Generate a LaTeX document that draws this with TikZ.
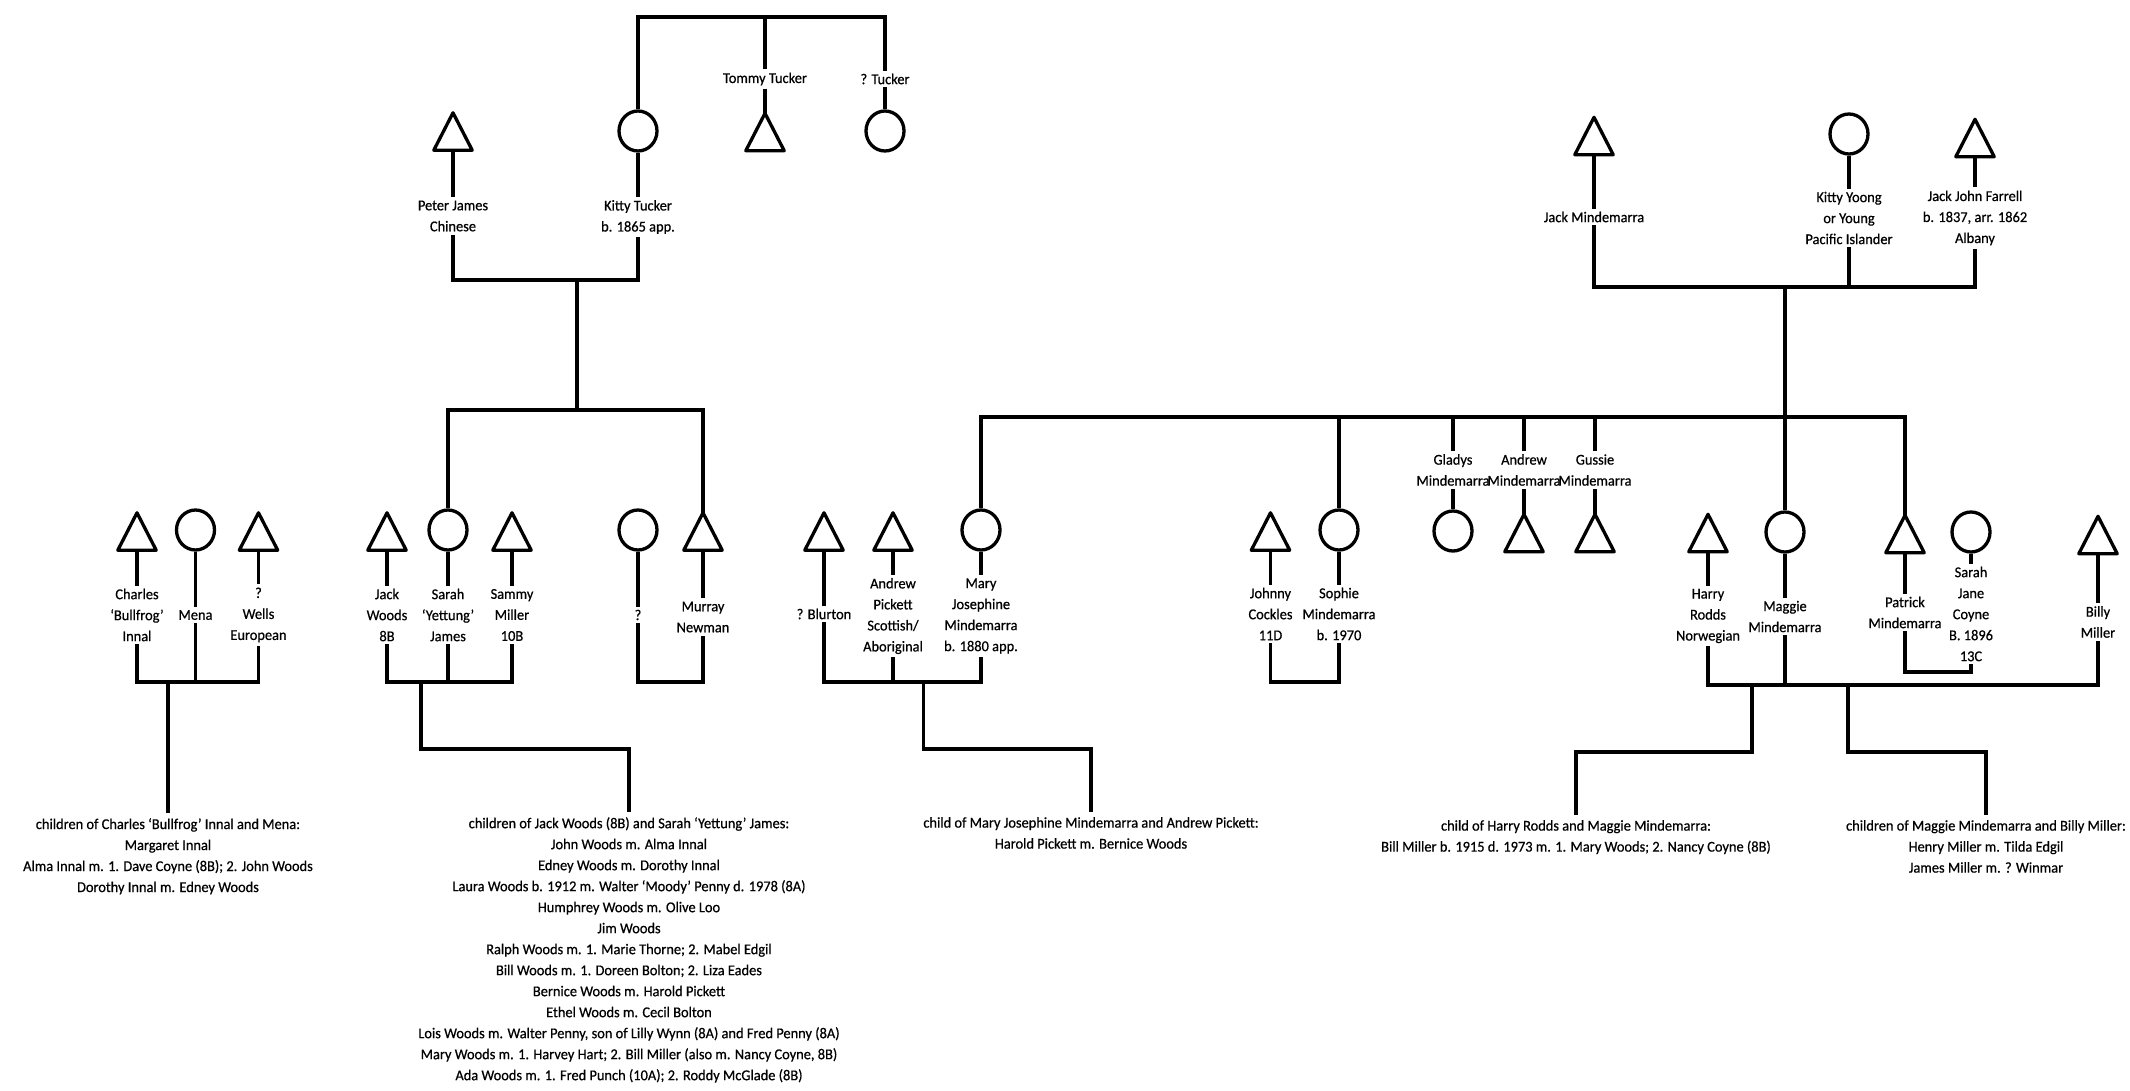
\documentclass[tikz,border=0pt]{standalone}
\usepackage{fontspec}
\setmainfont[FakeStretch=0.96,FakeBold=0.6]{Carlito}
\usetikzlibrary{shapes.geometric}
\begin{document}
\begin{tikzpicture}[x=1pt,y=-1pt,
  every node/.style={font=\fontsize{15}{21}\selectfont},
  lbl/.style={align=center, inner sep=3pt},
  tri/.style={minimum width=38pt, minimum height=37pt, inner sep=0pt},
  fem/.style={ellipse, draw, line width=3.3pt, minimum width=38pt, minimum height=40pt, inner sep=0pt},
  symline/.style={line width=3.3pt, line join=round},
  ln/.style={line width=3.8pt},
  txt/.style={align=center, inner sep=5pt, anchor=north}]
\path[use as bounding box] (0,0) rectangle (2130,1091);

% ---------- bar levels ----------
\coordinate (tb) at (0,17);
\coordinate (b1) at (0,280);
\coordinate (b2) at (0,410);
\coordinate (b3) at (0,682);
\coordinate (b4) at (0,287);
\coordinate (b5) at (0,417);
\coordinate (b6) at (0,685);
\coordinate (b7) at (0,672);
\coordinate (e1) at (0,749);
\coordinate (e2) at (0,752);

% ---------- row 1 left ----------
\node[tri] (peter) at (453,131.5) {};
\node[fem] (kittyT) at (638,131) {};
\node[tri] (tommy) at (765,132) {};
\node[fem] (qtucker) at (885,131) {};
\node[lbl] (peterL) at (453,216) {Peter James\\Chinese};
\node[lbl] (kittyTL) at (638,217) {Kitty Tucker\\b. 1865 app.};
\node[lbl] (tommyL) at (765,79) {Tommy Tucker};
\node[lbl] (qtuckerL) at (885,79) {? Tucker};

% ---------- row 1 right ----------
\node[tri] (jackM) at (1594,136) {};
\node[fem] (kittyY) at (1849,134) {};
\node[tri] (farrell) at (1975,138) {};
\node[lbl] (jackML) at (1594,217) {Jack Mindemarra};
\node[lbl] (kittyYL) at (1849,218) {Kitty Yoong\\or Young\\Pacific Islander};
\node[lbl] (farrellL) at (1975,218) {Jack John Farrell\\b. 1837, arr. 1862\\Albany};

% ---------- row 2 ----------
\node[tri] (charles) at (137,531.5) {};
\node[fem] (mena) at (195.5,530) {};
\node[tri] (wells) at (258.5,531.5) {};
\node[tri] (jackW) at (387,531.5) {};
\node[fem] (sarahW) at (448,530) {};
\node[tri] (sammy) at (512,531.5) {};
\node[fem] (qmur) at (638,530) {};
\node[tri] (murray) at (703,531.5) {};
\node[tri] (blurton) at (824,531.5) {};
\node[tri] (andrewP) at (893,531.5) {};
\node[fem] (mary) at (981,530) {};
\node[tri] (johnny) at (1270.5,531.5) {};
\node[fem] (sophie) at (1339,530) {};
\node[fem] (gladys) at (1453,531) {};
\node[tri] (andrewM) at (1524,533) {};
\node[tri] (gussie) at (1595,533) {};
\node[tri] (harry) at (1708,533) {};
\node[fem] (maggie) at (1785,532) {};
\node[tri] (patrick) at (1905,534) {};
\node[fem] (sarahJ) at (1971,532) {};
\node[tri] (billy) at (2098,535) {};

\foreach \n in {peter,tommy,jackM,farrell,charles,wells,jackW,sammy,murray,blurton,andrewP,johnny,andrewM,gussie,harry,patrick,billy}
  \draw[symline] (\n.south west) -- (\n.north) -- (\n.south east) -- cycle;

\node[lbl] (charlesL) at (137,615) {Charles\\`Bullfrog'\\Innal};
\node[lbl] (menaL) at (195.5,615) {Mena};
\node[lbl] (wellsL) at (258.5,615) {?\\Wells\\European};
\node[lbl] (jackWL) at (387,615) {Jack\\Woods\\8B};
\node[lbl] (sarahWL) at (448,615) {Sarah\\`Yettung'\\James};
\node[lbl] (sammyL) at (512,615) {Sammy\\Miller\\10B};
\node[lbl] (qmurL) at (638,615) {?};
\node[lbl] (murrayL) at (703,617) {Murray\\Newman};
\node[lbl] (blurtonL) at (824,614) {? Blurton};
\node[lbl] (andrewPL) at (893,616) {Andrew\\Pickett\\Scottish/\\Aboriginal};
\node[lbl] (maryL) at (981,616) {Mary\\Josephine\\Mindemarra\\b. 1880 app.};
\node[lbl] (johnnyL) at (1270.5,614) {Johnny\\Cockles\\11D};
\node[lbl] (sophieL) at (1339,614) {Sophie\\Mindemarra\\b. 1970};
\node[lbl] (gladysL) at (1453,470) {Gladys\\Mindemarra};
\node[lbl] (andrewML) at (1524,470) {Andrew\\Mindemarra};
\node[lbl] (gussieL) at (1595,470) {Gussie\\Mindemarra};
\node[lbl] (harryL) at (1708,616) {Harry\\Rodds\\Norwegian};
\node[lbl] (maggieL) at (1785,616.5) {Maggie\\Mindemarra};
\node[lbl] (patrickL) at (1905,612.5) {Patrick\\Mindemarra};
\node[lbl] (sarahJL) at (1971,614) {Sarah\\Jane\\Coyne\\B. 1896\\13C};
\node[lbl] (billyL) at (2098,622) {Billy\\Miller};

% ---------- children texts ----------
\node[txt] (innalKids) at (168,813) {children of Charles `Bullfrog' Innal and Mena:\\Margaret Innal\\Alma Innal m. 1. Dave Coyne (8B); 2. John Woods\\Dorothy Innal m. Edney Woods};
\node[txt] (woodsKids) at (629,812) {children of Jack Woods (8B) and Sarah `Yettung' James:\\John Woods m. Alma Innal\\Edney Woods m. Dorothy Innal\\Laura Woods b. 1912 m. Walter `Moody' Penny d. 1978 (8A)\\Humphrey Woods m. Olive Loo\\Jim Woods\\Ralph Woods m. 1. Marie Thorne; 2. Mabel Edgil\\Bill Woods m. 1. Doreen Bolton; 2. Liza Eades\\Bernice Woods m. Harold Pickett\\Ethel Woods m. Cecil Bolton\\Lois Woods m. Walter Penny, son of Lilly Wynn (8A) and Fred Penny (8A)\\Mary Woods m. 1. Harvey Hart; 2. Bill Miller (also m. Nancy Coyne, 8B)\\Ada Woods m. 1. Fred Punch (10A); 2. Roddy McGlade (8B)};
\node[txt] (pickettKid) at (1091,812) {child of Mary Josephine Mindemarra and Andrew Pickett:\\Harold Pickett m. Bernice Woods};
\node[txt] (roddsKid) at (1576,815) {child of Harry Rodds and Maggie Mindemarra:\\Bill Miller b. 1915 d. 1973 m. 1. Mary Woods; 2. Nancy Coyne (8B)};
\node[txt] (millerKids) at (1986,815) {children of Maggie Mindemarra and Billy Miller:\\Henry Miller m. Tilda Edgil\\James Miller m. ? Winmar};

% ---------- connectors: top left ----------
\draw[ln] (kittyT) -- (kittyT |- tb) -- (qtuckerL |- tb) -- (qtuckerL);
\draw[ln] (tommyL) -- (tommyL |- tb);
\draw[ln] (tommyL) -- (tommy.north);
\draw[ln] (qtuckerL) -- (qtucker);
\draw[ln] (peter.south) -- (peterL);
\draw[ln] (kittyT) -- (kittyTL);
\draw[ln] (peterL) -- (peterL |- b1) -- (kittyTL |- b1) -- (kittyTL);
\coordinate (d1) at (577,280);
\draw[ln] (d1) -- (d1 |- b2);
\draw[ln] (sarahW) -- (sarahW |- b2) -- (murray.north |- b2) -- (murray.north);

% ---------- connectors: top right ----------
\draw[ln] (jackM.south) -- (jackML);
\draw[ln] (kittyY) -- (kittyYL);
\draw[ln] (farrell.south) -- (farrellL);
\draw[ln] (jackML) -- (jackML |- b4) -- (farrellL |- b4) -- (farrellL);
\draw[ln] (kittyYL) -- (kittyYL |- b4);
\coordinate (d2) at (1785,287);
\draw[ln] (d2) -- (maggie);
\draw[ln] (mary) -- (mary |- b5) -- (patrick.north |- b5) -- (patrick.north);
\draw[ln] (sophie) -- (sophie |- b5);
\draw[ln] (gladysL) -- (gladysL |- b5);
\draw[ln] (gladysL) -- (gladys);
\draw[ln] (andrewML) -- (andrewML |- b5);
\draw[ln] (andrewML) -- (andrewM.north);
\draw[ln] (gussieL) -- (gussieL |- b5);
\draw[ln] (gussieL) -- (gussie.north);

% ---------- connectors: row 2 symbols to labels ----------
\foreach \n in {charles,wells,jackW,sammy,murray,blurton,andrewP,johnny,harry,patrick,billy}
  \draw[ln] (\n.south) -- (\n L);
\foreach \n in {mena,sarahW,qmur,mary,sophie,maggie,sarahJ}
  \draw[ln] (\n) -- (\n L);

% ---------- couple bars ----------
\draw[ln] (charlesL) -- (charlesL |- b3) -- (wellsL |- b3) -- (wellsL);
\draw[ln] (menaL) -- (menaL |- b3);
\draw[ln] (jackWL) -- (jackWL |- b3) -- (sammyL |- b3) -- (sammyL);
\draw[ln] (sarahWL) -- (sarahWL |- b3);
\draw[ln] (qmurL) -- (qmurL |- b3) -- (murrayL |- b3) -- (murrayL);
\draw[ln] (blurtonL) -- (blurtonL |- b3) -- (maryL |- b3) -- (maryL);
\draw[ln] (andrewPL) -- (andrewPL |- b3);
\draw[ln] (johnnyL) -- (johnnyL |- b3) -- (sophieL |- b3) -- (sophieL);
\draw[ln] (harryL) -- (harryL |- b6) -- (billyL |- b6) -- (billyL);
\draw[ln] (maggieL) -- (maggieL |- b6);
\draw[ln] (patrickL) -- (patrickL |- b7) -- (sarahJL |- b7) -- (sarahJL);

% ---------- descents to children ----------
\draw[ln] (innalKids.north |- b3) -- (innalKids.north);
\coordinate (d3) at (421,682);
\draw[ln] (d3) -- (d3 |- e1) -- (woodsKids.north |- e1) -- (woodsKids.north);
\coordinate (d4) at (923.5,682);
\draw[ln] (d4) -- (d4 |- e1) -- (pickettKid.north |- e1) -- (pickettKid.north);
\coordinate (d5) at (1752,685);
\draw[ln] (d5) -- (d5 |- e2) -- (roddsKid.north |- e2) -- (roddsKid.north);
\coordinate (d6) at (1848,685);
\draw[ln] (d6) -- (d6 |- e2) -- (millerKids.north |- e2) -- (millerKids.north);
\end{tikzpicture}
\end{document}
